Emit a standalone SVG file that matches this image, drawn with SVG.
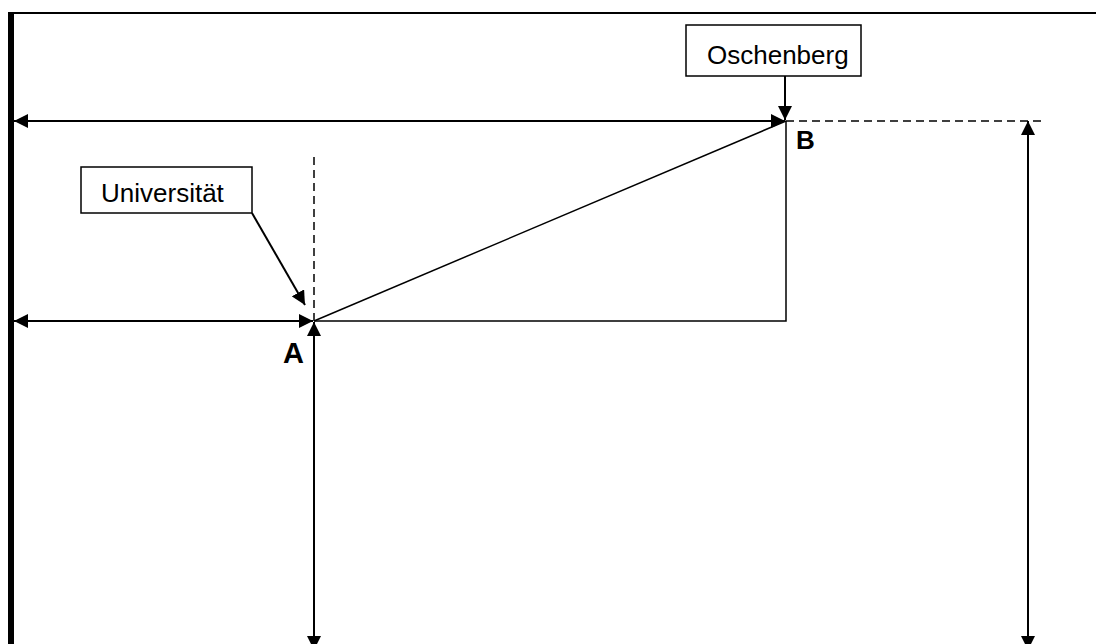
<svg xmlns="http://www.w3.org/2000/svg" width="1096" height="644" viewBox="0 0 1096 644">
<style>
.ln{stroke:#000;fill:none}
.dim{stroke:#000;stroke-width:2;fill:none}
.thin{stroke:#000;stroke-width:1.5;fill:none}
.dash{stroke:#000;stroke-width:1.5;fill:none;stroke-dasharray:8,5}
.box{fill:#fff;stroke:#000;stroke-width:1.5}
.lbl{font-family:"Liberation Sans",Arial,sans-serif;font-size:26px;fill:#000}
.pt{font-family:"Liberation Sans",Arial,sans-serif;font-size:26px;font-weight:bold;fill:#000}
.ptA{font-size:29px}
</style>
<defs>
<marker id="ah" viewBox="0 0 14 14" markerWidth="14" markerHeight="14" refX="14" refY="7" orient="auto-start-reverse" markerUnits="userSpaceOnUse">
<path d="M0,0 L14,7 L0,14 z" fill="#000"/>
</marker>
</defs>
<rect width="1096" height="644" fill="#fff"/>
<g id="frame">
<line class="ln" x1="8" y1="13" x2="1096" y2="13" stroke-width="2"/>
<line class="ln" x1="11" y1="12" x2="11" y2="644" stroke-width="6"/>
</g>
<g id="connectors">
<line class="dim" x1="14" y1="121" x2="785" y2="121" marker-start="url(#ah)" marker-end="url(#ah)"/>
<line class="dim" x1="14" y1="321" x2="313" y2="321" marker-start="url(#ah)" marker-end="url(#ah)"/>
<line class="dim" x1="314" y1="322" x2="314" y2="650" marker-start="url(#ah)" marker-end="url(#ah)"/>
<line class="dim" x1="1028" y1="121" x2="1028" y2="650" marker-start="url(#ah)" marker-end="url(#ah)"/>
<line class="dash" x1="786" y1="121" x2="1046" y2="121"/>
<line class="dash" x1="314" y1="157" x2="314" y2="321"/>
<line class="thin" x1="314" y1="321" x2="786" y2="121"/>
<polyline class="thin" points="314,321 786,321 786,121"/>
<line class="dim" x1="785" y1="76" x2="785" y2="120" marker-end="url(#ah)"/>
<line class="dim" x1="252" y1="213" x2="305" y2="305" marker-end="url(#ah)"/>
</g>
<g id="oschenberg">
<rect class="box" x="686" y="25" width="175" height="51"/>
<text class="lbl" x="707" y="64">Oschenberg</text>
</g>
<g id="universitaet">
<rect class="box" x="81" y="167" width="171" height="46"/>
<text class="lbl" x="101" y="202">Universität</text>
</g>
<g id="pointB">
<text class="pt" x="796" y="149">B</text>
</g>
<g id="pointA">
<text class="pt ptA" x="283" y="363">A</text>
</g>
</svg>
